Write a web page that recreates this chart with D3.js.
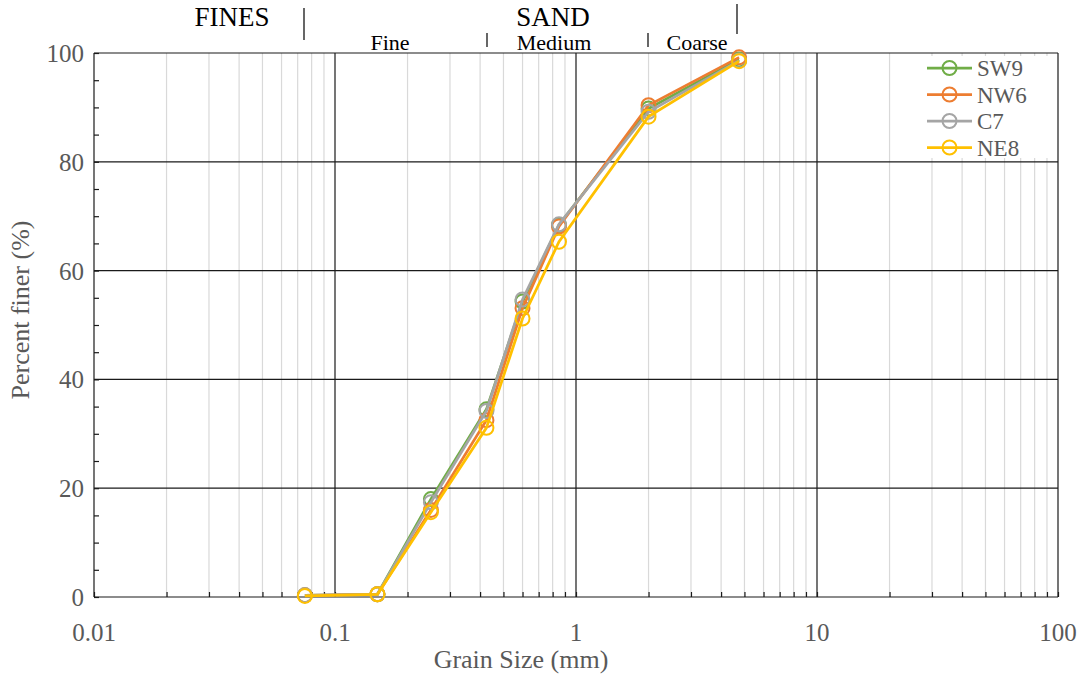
<!DOCTYPE html>
<html><head><meta charset="utf-8">
<script src="https://cdn.jsdelivr.net/npm/d3@7"></script>
<style>body{margin:0;background:#fff}svg{display:block}text{font-family:"Liberation Serif","Times New Roman",serif}</style>
</head><body><svg id="c" width="1085" height="678"></svg>
<script>
const sizes = [0.075, 0.15, 0.25, 0.425, 0.6, 0.85, 2.0, 4.75];
const seriesNames = ["SW9", "NW6", "C7", "NE8"];
const SW9 = [0.3, 0.5, 18.0, 34.5, 54.3, 68.4, 89.8, 98.8];
const NW6 = [0.3, 0.5, 16.0, 32.5, 53.1, 68.1, 90.4, 99.2];
const C7  = [0.3, 0.5, 17.4, 34.2, 54.7, 68.5, 89.2, 98.6];
const NE8 = [0.2, 0.5, 15.6, 31.1, 51.2, 65.3, 88.3, 98.5];
const seriesColors = ["#70AD47", "#ED7D31", "#A5A5A5", "#FFC000"];
const xTicks = [0.01, 0.1, 1, 10, 100];
const xTickLabels = ["0.01", "0.1", "1", "10", "100"];
const yTicks = [0, 20, 40, 60, 80, 100];

const svg = d3.select("#c");
const L = 94, R = 1058, T = 53, B = 597;
const x = d3.scaleLog().domain([0.01, 100]).range([L, R]);
const y = d3.scaleLinear().domain([0, 100]).range([B, T]);

const minors = [];
for (let d = 0.01; d < 100; d *= 10) for (let k = 2; k <= 9; k++) minors.push(d * k);

const g = svg.append("g");
g.selectAll(".mg").data(minors).join("line")
  .attr("x1", d => x(d)).attr("x2", d => x(d)).attr("y1", T).attr("y2", B)
  .attr("stroke", "#d9d9d9").attr("stroke-width", 1.2);

const lg = svg.append("g");
lg.append("rect").attr("x", 914).attr("y", 56).attr("width", 134).attr("height", 102).attr("fill", "#fff");

g.selectAll(".Mg").data([0.1, 1, 10]).join("line")
  .attr("x1", d => x(d)).attr("x2", d => x(d)).attr("y1", T).attr("y2", B)
  .attr("stroke", "#1a1a1a").attr("stroke-width", 1.2);
g.selectAll(".hg").data([20, 40, 60, 80, 100]).join("line")
  .attr("x1", L).attr("x2", R).attr("y1", d => y(d)).attr("y2", d => y(d))
  .attr("stroke", "#1a1a1a").attr("stroke-width", 1.2);
g.append("line").attr("x1", R).attr("x2", R).attr("y1", T).attr("y2", B).attr("stroke", "#1a1a1a").attr("stroke-width", 1.2);

const xAxis = d3.axisBottom(x).tickValues(xTicks.concat(minors)).tickSize(-5).tickFormat("");
const xa = svg.append("g").attr("transform", `translate(0,${B})`).call(xAxis);
xa.selectAll("path,line").attr("stroke", "#1a1a1a").attr("stroke-width", 1.2);
const yAxis = d3.axisLeft(y).tickValues(d3.range(0, 101, 5)).tickSize(-5).tickFormat("");
const ya = svg.append("g").attr("transform", `translate(${L},0)`).call(yAxis);
ya.selectAll("path,line").attr("stroke", "#1a1a1a").attr("stroke-width", 1.2);
xa.select("path").attr("d", `M${L},0H${R}`);
ya.select("path").attr("d", `M0,${B}V${T}`);

svg.append("g").selectAll("text").data(xTicks).join("text")
  .attr("x", d => x(d)).attr("y", 641).attr("text-anchor", "middle")
  .attr("font-size", 25).attr("fill", "#595959").text((d, i) => xTickLabels[i]);
svg.append("g").selectAll("text").data(yTicks).join("text")
  .attr("x", 84).attr("y", d => y(d) + 9).attr("text-anchor", "end")
  .attr("font-size", 25).attr("fill", "#595959").text(d => d);

svg.append("text").attr("x", 521).attr("y", 668).attr("text-anchor", "middle")
  .attr("font-size", 26).attr("fill", "#595959").text("Grain Size (mm)");
svg.append("text").attr("transform", "translate(29,310) rotate(-90)").attr("text-anchor", "middle")
  .attr("font-size", 26).attr("fill", "#595959").text("Percent finer (%)");

const data = [SW9, NW6, C7, NE8];
const line = d3.line().x(d => x(d[0])).y(d => y(d[1]));
data.forEach((vals, i) => {
  const pts = sizes.map((s, j) => [s, vals[j]]);
  const sg = svg.append("g");
  sg.append("path").attr("d", line(pts)).attr("fill", "none")
    .attr("stroke", seriesColors[i]).attr("stroke-width", 2.75);
  sg.selectAll("circle").data(pts).join("circle")
    .attr("cx", d => x(d[0])).attr("cy", d => y(d[1])).attr("r", 7)
    .attr("fill", "none").attr("stroke", seriesColors[i]).attr("stroke-width", 2);
});

seriesNames.forEach((n, i) => {
  const yy = 68 + i * 26.5;
  lg.append("line").attr("x1", 927).attr("x2", 972).attr("y1", yy).attr("y2", yy)
    .attr("stroke", seriesColors[i]).attr("stroke-width", 2.75);
  lg.append("circle").attr("cx", 949.5).attr("cy", yy).attr("r", 7)
    .attr("fill", "none").attr("stroke", seriesColors[i]).attr("stroke-width", 2);
  lg.append("text").attr("x", 977).attr("y", yy + 8).attr("font-size", 23)
    .attr("fill", "#595959").text(n);
});
svg.node().appendChild(lg.node());

const ann = svg.append("g");
ann.append("text").attr("x", 232).attr("y", 26).attr("text-anchor", "middle").attr("font-size", 27).text("FINES");
ann.append("text").attr("x", 553).attr("y", 26).attr("text-anchor", "middle").attr("font-size", 27).text("SAND");
ann.append("text").attr("x", 390).attr("y", 50).attr("text-anchor", "middle").attr("font-size", 22).text("Fine");
ann.append("text").attr("x", 554).attr("y", 50).attr("text-anchor", "middle").attr("font-size", 22).text("Medium");
ann.append("text").attr("x", 697).attr("y", 50).attr("text-anchor", "middle").attr("font-size", 22).text("Coarse");
[[304, 8, 40], [487, 33, 47], [648, 33, 47], [737, 4, 34]].forEach(d => {
  ann.append("line").attr("x1", d[0]).attr("x2", d[0]).attr("y1", d[1]).attr("y2", d[2])
    .attr("stroke", "#000").attr("stroke-width", 1.2);
});
</script></body></html>
